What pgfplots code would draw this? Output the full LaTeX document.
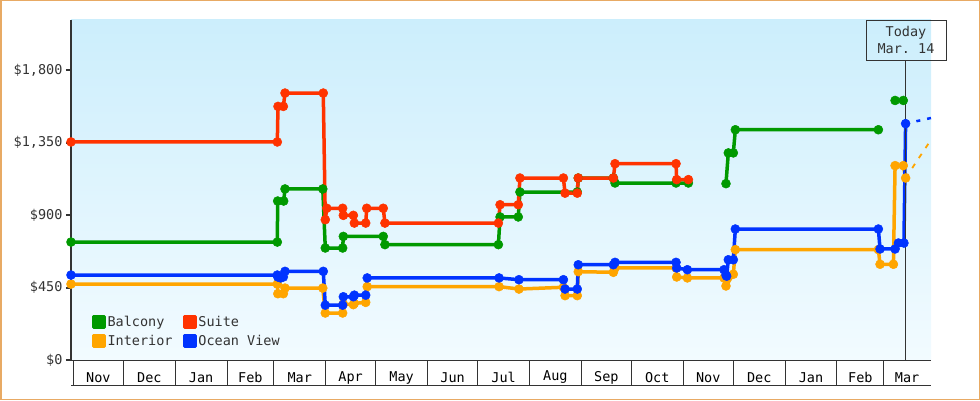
\documentclass[border=0pt]{standalone}
\usepackage{pgfplots}
\pgfplotsset{compat=1.18}
\usepackage{fontspec}
\setmainfont{DejaVu Sans Mono}
\definecolor{cgreen}{RGB}{0,153,0}
\definecolor{cred}{RGB}{255,51,0}
\definecolor{corange}{RGB}{255,165,0}
\definecolor{cblue}{RGB}{0,51,255}
\definecolor{cdark}{RGB}{51,51,51}
\definecolor{cframe}{RGB}{232,170,100}
\definecolor{bgtop}{RGB}{204,238,252}
\definecolor{bgbot}{RGB}{242,251,255}
\newcommand{\cf}{\fontsize{13.5}{17}\selectfont}
\begin{document}
\begin{tikzpicture}[font=\cf]
\useasboundingbox (0,0) rectangle (980pt,400pt);
\draw[cframe, line width=1.5pt] (0.75pt,0.75pt) rectangle (979.25pt,399.25pt);
\begin{axis}[
  at={(71pt,40pt)}, anchor=south west,
  scale only axis, width=860pt, height=340pt,
  xmin=-1.38, xmax=513.3, ymin=0, ymax=2113,
  axis x line*=bottom, axis y line*=left,
  x axis line style={cdark, line width=1pt},
  y axis line style={cdark, line width=2pt},
  clip=false,
  axis background/.style={top color=bgtop, bottom color=bgbot},
  tick align=outside,
  major tick length=5pt,
  ytick={0,450,900,1350,1800},
  yticklabels={\$0,\$450,\$900,{\$1,350},{\$1,800}},
  ytick style={cdark, line width=2pt},
  yticklabel style={font=\cf, text=cdark},
  xtick={15,45.5,76.5,106,135.5,166,196.5,227,257.5,288.5,319,349.5,380,410.5,441.5,471,499},
  xticklabels={Nov,Dec,Jan,Feb,Mar,Apr,May,Jun,Jul,Aug,Sep,Oct,Nov,Dec,Jan,Feb,Mar},
  xtick style={draw=none},
  xticklabel style={font=\cf, text=black, anchor=center, yshift=-12.5pt},
  extra x ticks={0,30,61,92,120,151,181,212,242,273,304,334,365,395,426,457,485},
  extra x tick labels={},
  extra x tick style={major tick length=25pt, xtick style={draw=cdark, line width=1pt}},
  unbounded coords=jump,
  legend columns=2,
  legend cell align=left,
  legend style={draw=none, fill=none, at={(0.024,0.034)}, anchor=south west,
    inner sep=0pt, row sep=4.5pt, font=\cf, text=cdark,
    nodes={inner sep=1.2pt},
    /tikz/every even column/.append style={column sep=9pt}},
  legend image code/.code={\fill (0pt,-5.5pt) rectangle (11pt,5.5pt);},
  every axis plot/.append style={line width=3.5pt, line join=round, mark=*, mark size=4.5pt, mark options={line width=0.5pt}},
]
% Balcony
\addplot[color=cgreen] coordinates {
(-1.38,733) (122.1,733) (122.3,988) (125.9,988) (126.7,1063) (149.3,1063)
(150.8,696) (161.2,696) (161.6,768) (185.5,768) (186.5,717) (254.4,717)
(255.4,889) (266.3,889) (267.3,1044) (301.6,1044) (302.2,1131) (323.2,1131)
(324.2,1100) (360.7,1100) (368.1,1100) (368.1,nan)
(390.6,1096) (392.0,1287) (395.0,1287) (396.2,1431) (481.8,1431) (481.8,nan)
(491.8,1613) (496.7,1613)
};
\addlegendentry{Balcony}
% Suite
\addplot[color=cred] coordinates {
(-1.38,1355) (122.1,1355) (122.5,1576) (125.7,1576) (126.7,1659) (149.6,1659)
(150.8,872) (151.7,943) (161.2,943) (161.6,899) (167.6,899) (168.2,851)
(175.0,851) (175.6,943) (185.5,943) (186.5,851) (254.4,851) (255.4,965)
(266.3,965) (267.3,1131) (293.3,1131) (294.3,1037) (301.6,1037) (302.2,1131)
(323.2,1131) (324.2,1220) (360.7,1220) (361.1,1121) (368.1,1121)
};
\addlegendentry{Suite}
% Interior
\addplot[color=corange] coordinates {
(-1.38,472) (122.1,472) (122.4,412) (125.7,412) (126.7,447) (149.3,447)
(150.8,292) (161.2,292) (161.6,348) (167.6,344) (168.2,352) (175.0,358)
(175.9,456) (254.8,456) (266.7,441) (293.3,452) (294.3,400) (301.6,400)
(302.2,549) (323.2,545) (324.2,572) (360.7,572) (361.1,516) (367.5,510)
(389.4,510) (390.6,460) (395.0,533) (396.2,686) (481.8,686) (482.8,595)
(490.8,595) (491.8,1208) (496.7,1208) (498.1,1131)
};
\addlegendentry{Interior}
% Ocean View
\addplot[color=cblue] coordinates {
(-1.38,528) (122.1,528) (122.4,516) (124.1,510) (125.7,516) (126.7,551)
(149.6,551) (150.8,341) (161.2,341) (161.6,393) (167.6,393) (168.2,403)
(175.0,403) (175.9,510) (254.8,510) (266.7,499) (293.3,499) (294.3,441)
(301.6,441) (302.2,592) (323.2,592) (324.2,607) (360.7,607) (361.1,572)
(367.5,561) (389.4,561) (390.6,528) (391.0,521) (392.0,623) (395.0,623)
(396.2,814) (481.8,814) (482.8,690) (491.8,690) (493.8,727) (497.1,727)
(498.1,1469)
};
\addlegendentry{Ocean View}
% projections
\addplot[forget plot, color=cblue, mark=none, line width=2.5pt, dash pattern=on 4pt off 7pt] coordinates {(498.1,1469) (513.3,1504)};
\addplot[forget plot, color=corange, mark=none, line width=1.8pt, dash pattern=on 5pt off 7pt] coordinates {(498.1,1131) (513.3,1369)};
% month box bottom line
\draw[cdark, line width=1pt] ([yshift=-25pt]rel axis cs:0,0) -- ([yshift=-25pt]rel axis cs:1,0);
% today marker
\draw[cdark, line width=0.8pt] (axis cs:498.1,0) -- (axis cs:498.1,1864);
\node[draw=cdark, line width=0.8pt, minimum width=80pt, minimum height=40pt, anchor=north,
  align=center, inner sep=0pt, text=cdark, font=\cf] at (axis cs:498.3,2113) {Today\\Mar.~14};
\end{axis}
\end{tikzpicture}
\end{document}
